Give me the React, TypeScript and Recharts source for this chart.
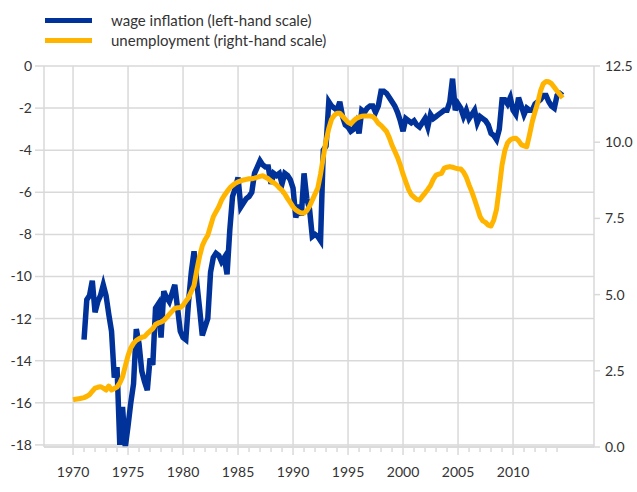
import { ComposedChart, Line, XAxis, YAxis, CartesianGrid, ReferenceLine } from 'recharts';

const wageStart = 1971;
const wageInflation = [
  -13.0, -11.1, -10.9, -10.2,
  -11.7, -11.2, -10.9, -10.4,
  -10.9, -11.8, -12.6, -14.8,
  -14.3, -18.0, -16.2, -18.1,
  -17.1, -16.0, -15.1, -12.5,
  -13.2, -14.5, -15.0, -15.4,
  -13.9, -14.2, -11.5, -11.3,
  -12.9, -10.7, -11.0, -11.2,
  -10.8, -10.4, -11.5, -12.6,
  -12.9, -13.0, -11.2, -9.8,
  -8.8, -10.3, -11.5, -12.8,
  -12.4, -12.0, -9.8, -9.1,
  -8.9, -9.0, -9.3, -9.1,
  -9.9, -7.8, -6.2, -5.8,
  -5.3, -6.7, -6.5, -6.3,
  -6.2, -6.0, -5.1, -4.8,
  -4.5, -4.7, -4.8, -4.8,
  -5.6, -5.1, -5.2, -5.1,
  -5.6, -5.1, -5.2, -5.4,
  -5.8, -7.2, -6.6, -7.1,
  -5.1, -6.3, -6.8, -8.1,
  -8.0, -8.1, -8.3, -4.0,
  -3.8, -1.7, -1.9, -2.0,
  -2.1, -1.7, -2.4, -2.8,
  -2.9, -3.1, -3.0, -2.7,
  -3.2, -2.1, -2.2, -2.0,
  -1.9, -1.9, -2.2, -1.9,
  -1.2, -1.2, -1.3, -1.5,
  -1.7, -1.9, -2.2, -2.6,
  -3.1, -2.5, -2.6, -2.7,
  -2.6, -2.8, -2.9, -2.7,
  -2.5, -2.9, -2.3, -2.5,
  -2.4, -2.3, -2.2, -2.1,
  -2.1, -1.7, -0.6, -2.1,
  -1.8, -2.0, -2.4, -2.1,
  -2.5, -2.3, -2.1, -2.7,
  -2.4, -2.5, -2.6, -2.8,
  -3.2, -3.3, -3.5, -3.0,
  -1.6, -1.6, -1.8, -1.5,
  -2.1, -2.3, -1.5, -1.9,
  -2.3, -2.0, -2.1, -2.1,
  -1.8, -1.7, -1.6, -1.4,
  -1.4, -1.7, -1.9, -2.0,
  -1.4, -1.3, -1.4,
];

const unempStart = 1970;
const unemployment = [
  1.55, 1.57, 1.58, 1.60,
  1.62, 1.66, 1.72, 1.83,
  1.93, 1.96, 1.98, 1.93,
  1.87, 2.0, 1.87, 1.92,
  1.97, 2.1, 2.3, 2.65,
  3.0, 3.25, 3.4, 3.5,
  3.55, 3.6, 3.62, 3.72,
  3.8, 3.88, 4.02, 4.07,
  4.1, 4.15, 4.25, 4.35,
  4.45, 4.55, 4.57, 4.58,
  4.65, 4.78, 4.9, 5.1,
  5.3, 5.8, 6.25, 6.6,
  6.8, 6.95, 7.25, 7.55,
  7.72, 7.88, 8.1, 8.25,
  8.38, 8.5, 8.58, 8.65,
  8.7, 8.73, 8.76, 8.78,
  8.8, 8.8, 8.82, 8.85,
  8.88, 8.9, 8.85, 8.8,
  8.72, 8.67, 8.6, 8.5,
  8.42, 8.3, 8.15, 8.02,
  7.88, 7.78, 7.72, 7.68,
  7.68, 7.75, 7.9, 8.1,
  8.3, 8.5, 8.95, 9.5,
  10.05, 10.45, 10.75, 10.88,
  10.95, 10.95, 10.85, 10.75,
  10.65, 10.6, 10.7, 10.78,
  10.82, 10.85, 10.86, 10.86,
  10.86, 10.84, 10.75, 10.62,
  10.55, 10.45, 10.35, 10.15,
  9.9, 9.7, 9.5, 9.25,
  8.95, 8.7, 8.45, 8.28,
  8.2, 8.12, 8.1, 8.22,
  8.33, 8.45, 8.58, 8.78,
  8.92, 8.95, 8.98, 9.15,
  9.18, 9.2, 9.18, 9.15,
  9.13, 9.12, 9.02, 8.85,
  8.6, 8.38, 8.12, 7.85,
  7.56, 7.42, 7.37, 7.28,
  7.25, 7.45, 7.8, 8.5,
  9.25, 9.72, 9.98, 10.08,
  10.12, 10.13, 10.05, 9.92,
  9.88, 9.85, 10.25, 10.68,
  11.0, 11.3, 11.68, 11.92,
  11.99, 11.98, 11.92, 11.8,
  11.68, 11.57, 11.45,
];

const leftTicks = [0, -2, -4, -6, -8, -10, -12, -14, -16, -18];
const rightTicks = [0, 2.5, 5, 7.5, 10, 12.5];
const yearTicks = Array.from({ length: 45 }, (_, i) => 1970 + i);
const majorYears = [1970, 1975, 1980, 1985, 1990, 1995, 2000, 2005, 2010];

const data = unemployment.map((u, i) => {
  const t = unempStart + i * 0.25;
  const w = Math.round((t - wageStart) * 4);
  return { t, unemp: u, wage: w >= 0 ? wageInflation[w] : null };
});

const BLUE = '#003299';
const YELLOW = '#ffb400';
const GRID = '#d9d9d9';
const TEXT = '#333333';
const FONT = 'Lato, "Open Sans", sans-serif';

const YearTick = (props: any) => {
  const { x, y, payload } = props;
  const major = payload.value % 5 === 0;
  return (
    <g>
      <line x1={x} x2={x} y1={y} y2={y + (major ? 8 : 5)} stroke={GRID} strokeWidth={1.5} />
      {major && (
        <text x={x} y={y + 30} textAnchor="middle" fill={TEXT} fontSize={14} fontFamily={FONT}>
          {payload.value}
        </text>
      )}
    </g>
  );
};

function LegendRow({ color, label }: { color: string; label: string }) {
  return (
    <div style={{ display: 'flex', alignItems: 'center', height: 20 }}>
      <div style={{ width: 47, height: 5, background: color, marginRight: 19 }} />
      <span style={{ fontSize: 15, color: TEXT, fontFamily: FONT }}>{label}</span>
    </div>
  );
}

export default function App() {
  return (
    <div style={{ position: 'absolute', left: 0, top: 0, width: 637, height: 492, background: '#fff' }}>
      <div style={{ position: 'absolute', left: 45, top: 10 }}>
        <LegendRow color={BLUE} label="wage inflation (left-hand scale)" />
        <LegendRow color={YELLOW} label="unemployment (right-hand scale)" />
      </div>
      <ComposedChart width={637} height={492} data={data} margin={{ top: 66, right: 0, bottom: 0, left: 0 }}>
        <CartesianGrid yAxisId="left" vertical={false} stroke={GRID} strokeWidth={1.5} />
        {majorYears.map((yr) => (
          <ReferenceLine key={yr} x={yr} yAxisId="left" stroke={GRID} strokeWidth={1.5} />
        ))}
        <XAxis
          dataKey="t"
          type="number"
          domain={[1967.36, 2017.36]}
          ticks={yearTicks}
          interval={0}
          height={45}
          tickSize={0}
          tickMargin={0}
          tickLine={false}
          axisLine={{ stroke: GRID, strokeWidth: 1.5 }}
          tick={<YearTick />}
        />
        <YAxis
          yAxisId="left"
          domain={[-18, 0]}
          ticks={leftTicks}
          interval={0}
          width={44}
          tickSize={9}
          tickMargin={3}
          axisLine={{ stroke: GRID, strokeWidth: 1.5 }}
          tickLine={{ stroke: GRID, strokeWidth: 1.5 }}
          tick={{ fill: TEXT, fontSize: 14, fontFamily: FONT }}
        />
        <YAxis
          yAxisId="right"
          orientation="right"
          domain={[0, 12.5]}
          ticks={rightTicks}
          interval={0}
          width={43}
          tickSize={6}
          tickMargin={5}
          tickFormatter={(v: number) => v.toFixed(1)}
          axisLine={{ stroke: GRID, strokeWidth: 1.5 }}
          tickLine={{ stroke: GRID, strokeWidth: 1.5 }}
          tick={{ fill: TEXT, fontSize: 14, fontFamily: FONT }}
        />
        <Line
          yAxisId="left"
          dataKey="wage"
          stroke={BLUE}
          strokeWidth={5.5}
          dot={false}
          isAnimationActive={false}
          connectNulls={false}
        />
        <Line
          yAxisId="right"
          dataKey="unemp"
          stroke={YELLOW}
          strokeWidth={5}
          strokeLinejoin="round"
          dot={false}
          isAnimationActive={false}
        />
      </ComposedChart>
    </div>
  );
}
